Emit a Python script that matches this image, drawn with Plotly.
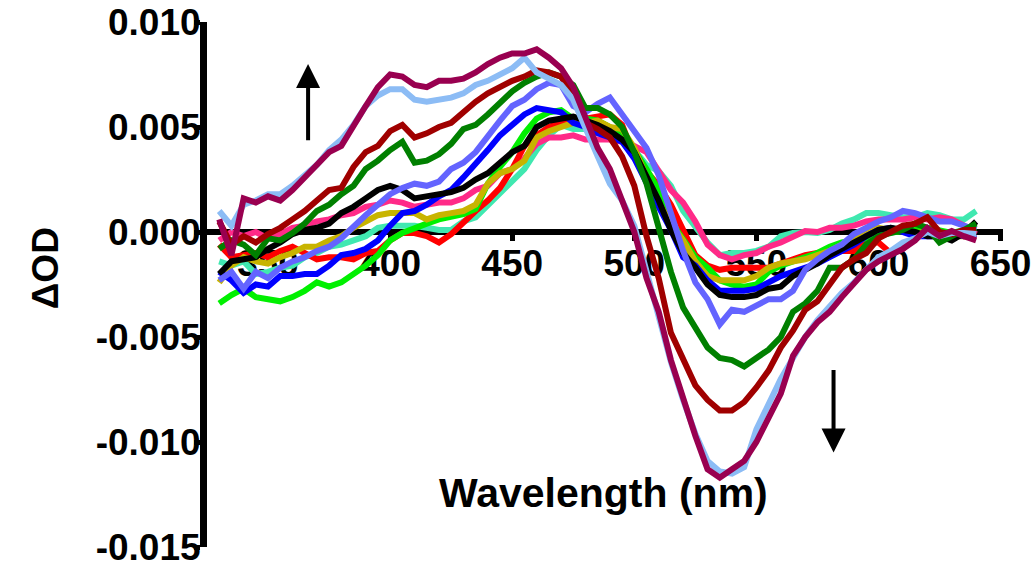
import plotly.graph_objects as go

wavelength = [330, 335, 340, 345, 350, 355, 360, 365, 370, 375,
              380, 385, 390, 395, 400, 405, 410, 415, 420, 425,
              430, 435, 440, 445, 450, 455, 460, 465, 470, 475,
              480, 485, 490, 495, 500, 505, 510, 515, 520, 525,
              530, 535, 540, 545, 550, 555, 560, 565, 570, 575,
              580, 585, 590, 595, 600, 605, 610, 615, 620, 625,
              630, 635, 640]

# values in units of 1e-3 OD
claret = [0.6, -1.1, 1.6, 1.4, 1.7, 1.5, 2.0, 2.6, 3.1, 3.8,
          4.1, 5.1, 6.0, 6.9, 7.5, 7.4, 7.0, 6.9, 7.2, 7.2,
          7.3, 7.6, 8.0, 8.3, 8.5, 8.5, 8.7, 8.3, 7.8, 6.9,
          5.4, 4.0, 3.0, 1.5, 0.0, -2.2, -3.8, -6.1, -8.0, -9.7,
          -11.3, -11.7, -11.3, -10.9, -10.0, -8.9, -7.7, -5.9, -5.0, -4.3,
          -3.8, -3.1, -2.4, -1.8, -1.4, -1.1, -0.8, -0.4, 0.2, -0.2,
          0.05, -0.2, -0.4]
light_blue = [1.0, 0.3, 1.3, 1.5, 1.8, 1.8, 2.2, 2.7, 3.2, 3.9,
              4.4, 5.1, 6.0, 6.5, 6.8, 6.8, 6.3, 6.2, 6.3, 6.4,
              6.6, 7.0, 7.2, 7.5, 7.8, 8.3, 7.6, 7.3, 7.0, 6.3,
              4.9, 3.6, 2.3, 1.5, 0.3, -1.8, -4.1, -6.2, -8.0, -9.6,
              -10.9, -11.4, -11.5, -11.2, -9.4, -8.2, -7.0, -6.0, -5.0, -4.2,
              -3.5, -2.9, -2.4, -1.8, -1.2, -0.9, -0.5, -0.3, 0.0, -0.2,
              -0.05, -0.05, -0.1]
dark_red = [0.5, -0.6, -0.2, -0.5, -0.1, 0.2, 0.6, 1.0, 1.5, 2.0,
            2.1, 3.1, 3.8, 4.1, 4.8, 5.1, 4.5, 4.7, 5.0, 5.2,
            5.7, 6.2, 6.6, 6.9, 7.2, 7.4, 7.7, 7.6, 7.4, 6.5,
            5.2, 4.9, 4.5, 3.6, 2.2, -0.2, -2.2, -4.8, -6.1, -7.3,
            -8.0, -8.5, -8.5, -8.1, -7.4, -6.6, -5.5, -4.7, -3.7, -3.3,
            -2.5, -1.7, -1.3, -1.0, -0.3, 0.0, 0.3, 0.4, 0.7, 0.0,
            -0.1, 0.1, 0.1]
green = [-0.8, -0.4, -0.6, -1.1, -0.3, -0.4, -0.05, 0.4, 1.0, 1.3,
         1.8, 2.2, 3.0, 3.4, 3.9, 4.3, 3.3, 3.4, 3.7, 4.2,
         4.9, 5.1, 5.6, 6.2, 6.7, 7.1, 7.4, 7.6, 7.4, 7.0,
         5.9, 5.9, 5.6, 5.0, 3.8, 2.3, 0.2, -1.9, -3.6, -4.6,
         -5.5, -6.0, -6.1, -6.4, -6.0, -5.6, -5.0, -3.8, -3.4, -2.8,
         -1.7, -1.7, -1.3, -0.6, -0.2, -0.05, 0.1, 0.4, 0.2, -0.5,
         -0.2, 0.1, 0.4]
slate_blue = [-2.3, -1.9, -2.7, -1.9, -2.2, -1.7, -1.4, -1.2, -0.9, -0.7,
              -0.3, 0.3, 0.8, 1.3, 1.8, 2.1, 2.3, 2.2, 2.4, 3.0,
              3.3, 3.8, 4.6, 5.3, 6.0, 6.3, 6.8, 7.1, 7.0, 6.0,
              5.7, 6.1, 6.4, 5.6, 4.9, 4.0, 2.7, 0.8, -0.9, -2.4,
              -3.2, -4.4, -3.7, -3.8, -3.5, -3.2, -3.2, -2.8, -1.8, -1.3,
              -0.9, -0.6, -0.1, 0.2, 0.5, 0.7, 1.0, 0.9, 0.7, 0.5,
              0.5, 0.3, 0.1]
blue = [-1.9, -2.3, -2.9, -2.5, -2.6, -2.1, -2.1, -2.0, -2.0, -1.6,
        -1.1, -1.0, -0.8, -0.4, 0.3, 0.9, 1.0, 1.3, 1.7, 2.0,
        2.6, 3.2, 3.9, 4.6, 5.1, 5.6, 5.9, 5.8, 5.7, 5.2,
        5.0, 4.7, 4.5, 4.3, 3.5, 2.3, 1.2, 0.1, -1.2, -1.6,
        -2.3, -2.8, -2.8, -2.8, -2.7, -2.4, -2.1, -1.9, -1.7, -1.5,
        -1.2, -0.9, -0.6, -0.2, 0.1, 0.2, 0.0, -0.2, -0.2, -0.2,
        -0.05, -0.2, -0.1]
black = [-2.0, -1.4, -1.3, -1.2, -0.8, -0.5, -0.1, 0.1, 0.2, 0.4,
         0.9, 1.2, 1.6, 2.0, 2.2, 2.0, 1.6, 1.7, 1.8, 1.9,
         2.1, 2.5, 2.8, 3.3, 3.8, 4.1, 5.0, 5.3, 5.4, 5.5,
         5.3, 5.1, 4.8, 4.4, 3.8, 2.7, 1.5, 0.1, -1.0, -1.7,
         -2.5, -3.0, -3.1, -3.1, -3.0, -2.7, -2.6, -2.1, -1.8, -1.5,
         -1.1, -0.8, -0.5, -0.2, 0.1, 0.2, 0.1, 0.0, -0.2, -0.2,
         -0.4, -0.05, 0.5]
bright_green = [-3.4, -3.0, -2.7, -3.1, -3.2, -3.3, -3.1, -2.8, -2.4, -2.6,
                -2.4, -2.0, -1.6, -1.1, -0.4, -0.05, 0.2, 0.4, 0.6, 0.7,
                0.85, 1.1, 2.3, 3.1, 3.8, 4.7, 5.4, 5.7, 5.8, 5.4,
                5.4, 5.3, 5.0, 4.6, 3.9, 3.0, 2.0, 0.5, -0.4, -1.2,
                -1.7, -2.3, -2.5, -2.6, -2.5, -1.9, -1.6, -1.4, -1.2, -1.0,
                -0.7, -0.5, -0.4, -0.3, -0.1, -0.05, 0.0, 0.1, 0.2, 0.1,
                -0.05, 0.1, 0.2]
red = [-0.6, -1.2, -1.1, -1.0, -1.2, -0.9, -0.7, -1.0, -1.3, -1.2,
       -1.2, -1.3, -1.0, -0.9, -0.4, -0.05, -0.05, -0.2, -0.5, -0.1,
       0.5, 1.0, 1.5, 2.1, 3.0, 4.1, 4.6, 5.0, 5.2, 5.2,
       5.4, 5.5, 5.6, 5.1, 3.6, 2.9, 2.2, 1.3, 0.1, -1.1,
       -1.6, -1.8, -1.7, -1.7, -1.7, -1.7, -1.5, -1.3, -1.1, -1.0,
       -0.9, -0.9, -0.9, -0.5, -0.5, -1.0, -0.8, -0.3, 0.1, 0.0,
       -0.1, -0.2, -0.2]
pink = [-0.4, 0.0, -0.2, 0.0, -0.3, -0.1, 0.2, 0.3, 0.5, 0.6,
        0.8, 0.9, 1.2, 1.3, 1.5, 1.4, 1.2, 1.3, 1.4, 1.4,
        1.6, 2.0, 2.2, 2.8, 3.0, 3.5, 4.2, 4.5, 4.5, 4.6,
        4.4, 4.4, 4.4, 4.3, 4.1, 3.8, 2.9, 2.0, 1.4, 0.5,
        -0.6, -1.1, -1.3, -1.1, -1.0, -0.7, -0.5, -0.2, 0.05, 0.0,
        0.2, 0.2, 0.3, 0.5, 0.6, 0.6, 0.6, 0.7, 0.6, 0.7,
        0.6, 0.3, -0.1]
aquamarine = [-1.4, -1.6, -1.4, -2.0, -1.9, -1.7, -1.6, -1.2, -1.0, -0.7,
              -0.6, -0.4, -0.2, 0.2, 0.3, 0.3, 0.3, 0.2, 0.1, 0.1,
              0.5, 0.7, 1.3, 1.9, 2.4, 3.0, 3.9, 4.6, 5.1, 4.9,
              4.9, 4.9, 4.6, 4.4, 3.9, 3.2, 2.9, 2.2, 1.0, 0.2,
              -0.5, -1.1, -1.0, -1.0, -0.9, -0.7, -0.2, -0.05, 0.0, -0.05,
              0.1, 0.4, 0.6, 0.9, 0.9, 0.8, 0.7, 0.7, 0.9, 0.8,
              0.6, 0.6, 1.0]
olive = [-2.4, -1.6, -1.2, -1.4, -1.5, -1.2, -1.0, -0.7, -0.7, -0.4,
         -0.2, 0.2, 0.5, 0.8, 0.9, 0.9, 0.9, 0.6, 0.8, 0.9,
         1.0, 1.3, 2.3, 2.8, 3.0, 3.4, 4.5, 4.8, 5.0, 5.2,
         5.2, 5.3, 5.0, 4.9, 4.0, 2.6, 1.4, 0.4, -0.4, -1.4,
         -2.1, -2.3, -2.3, -2.3, -2.1, -1.7, -1.5, -1.4, -1.3, -1.1,
         -0.9, -0.6, -0.2, 0.05, 0.2, 0.1, 0.0, -0.05, 0.0, -0.05,
         -0.2, -0.2, -0.2]

# drawing order: first is at the bottom
series = [
    ("aquamarine", aquamarine, "#40e8b0"),
    ("pink", pink, "#ff2a88"),
    ("red", red, "#ff0000"),
    ("bright green", bright_green, "#00f000"),
    ("olive", olive, "#c8b400"),
    ("blue", blue, "#0000ff"),
    ("black", black, "#000000"),
    ("slate blue", slate_blue, "#6464ff"),
    ("green", green, "#008000"),
    ("dark red", dark_red, "#a00000"),
    ("light blue", light_blue, "#8cbcf5"),
    ("claret", claret, "#990050"),
]

x_ticks = [350, 400, 450, 500, 550, 600, 650]
y_ticks = [-0.015, -0.010, -0.005, 0.000, 0.005, 0.010]
y_tick_text = ["-0.015", "-0.010", "-0.005", "0.000", "0.005", "0.010"]

FONT = "Liberation Sans, Arial, sans-serif"

fig = go.Figure()
for name, vals, color in series:
    fig.add_trace(go.Scatter(
        x=wavelength, y=[v / 1000 for v in vals], mode="lines", name=name,
        line=dict(color=color, width=6), showlegend=False))

fig.update_layout(
    width=1036, height=564,
    margin=dict(l=207, r=33, t=22, b=17),
    paper_bgcolor="white", plot_bgcolor="white",
    xaxis=dict(range=[325, 651], anchor="free", position=0.6,
               tickvals=x_ticks, ticks="outside", ticklen=6, tickwidth=5,
               tickcolor="black", showline=True, linewidth=6, linecolor="black",
               showgrid=False, zeroline=False, layer="below traces",
               ticklabelstandoff=-9, ticklabeloverflow="allow",
               tickfont=dict(family=FONT, size=37, color="black", weight="bold"),
               automargin=False),
    yaxis=dict(range=[-0.015, 0.010], tickvals=y_ticks, ticktext=y_tick_text,
               ticks="outside", ticklen=6, tickwidth=5, tickcolor="black",
               showline=True, linewidth=7, linecolor="black",
               showgrid=False, zeroline=False, layer="below traces",
               ticklabelstandoff=-14, ticklabeloverflow="allow",
               tickfont=dict(family=FONT, size=37, color="black", weight="bold"),
               automargin=False),
)

fig.add_annotation(text="Wavelength (nm)", xref="paper", yref="paper",
                   x=0.4975, y=0.103, xanchor="center", yanchor="middle",
                   showarrow=False,
                   font=dict(family=FONT, size=41, color="black", weight="bold"))
fig.add_annotation(text="ΔOD", xref="paper", yref="paper", textangle=-90,
                   x=-0.2035, y=0.531, xanchor="center", yanchor="middle",
                   showarrow=False,
                   font=dict(family=FONT, size=37, color="black", weight="bold"))

# trend arrows
fig.add_annotation(x=366.4, y=0.0080, ax=366.4, ay=0.0043, xref="x", yref="y",
                   axref="x", ayref="y", text="", showarrow=True,
                   arrowhead=2, arrowsize=1.2, arrowwidth=4, arrowcolor="black")
fig.add_annotation(x=581.6, y=-0.0105, ax=581.6, ay=-0.0065, xref="x", yref="y",
                   axref="x", ayref="y", text="", showarrow=True,
                   arrowhead=2, arrowsize=1.2, arrowwidth=4, arrowcolor="black")

fig.write_html("out.html",
               config={"displayModeBar": False},
               post_script="document.body.style.margin='0';"
                           "document.body.style.overflow='hidden';")
